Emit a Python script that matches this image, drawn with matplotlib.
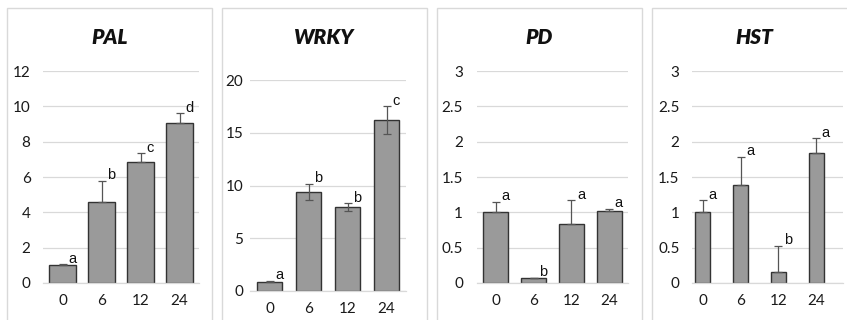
import matplotlib
matplotlib.use("Agg")
import matplotlib.pyplot as plt
from matplotlib.patches import Rectangle

# ---------------- data ----------------
hours = ["0", "6", "12", "24"]

genes = ["PAL", "WRKY", "PD", "HST"]

pal_vals = [1.0, 4.6, 6.85, 9.05]
pal_err = [0.05, 1.2, 0.5, 0.55]
pal_letters = ["a", "b", "c", "d"]

wrky_vals = [0.9, 9.4, 7.95, 16.2]
wrky_err = [0.08, 0.75, 0.35, 1.3]
wrky_letters = ["a", "b", "b", "c"]

pd_vals = [1.0, 0.07, 0.84, 1.02]
pd_err = [0.15, 0.0, 0.33, 0.03]
pd_letters = ["a", "b", "a", "a"]

hst_vals = [1.0, 1.39, 0.15, 1.84]
hst_err = [0.17, 0.4, 0.38, 0.21]
hst_letters = ["a", "a", "b", "a"]

pal_ticks = [0, 2, 4, 6, 8, 10, 12]
wrky_ticks = [0, 5, 10, 15, 20]
pd_ticks = [0, 0.5, 1, 1.5, 2, 2.5, 3]
hst_ticks = [0, 0.5, 1, 1.5, 2, 2.5, 3]

# ---------------- layout (pixels) ----------------
W, H = 847, 320
fig = plt.figure(figsize=(W / 100, H / 100), dpi=100)

panels = [
    dict(name=genes[0], vals=pal_vals, err=pal_err, letters=pal_letters, ticks=pal_ticks,
         ax=(43, 199, 283, 71), box=(7, 212), width=0.68, both=False, shift=0.0, ypad=9),
    dict(name=genes[1], vals=wrky_vals, err=wrky_err, letters=wrky_letters, ticks=wrky_ticks,
         ax=(250, 406, 291, 80), box=(222, 427), width=0.65, both=True, shift=0.0, ypad=5),
    dict(name=genes[2], vals=pd_vals, err=pd_err, letters=pd_letters, ticks=pd_ticks,
         ax=(477, 628, 283, 71), box=(437, 642), width=0.66, both=False, shift=0.0, ypad=10),
    dict(name=genes[3], vals=hst_vals, err=hst_err, letters=hst_letters, ticks=hst_ticks,
         ax=(692, 843, 283, 71), box=(652, 857), width=0.40, both=False, shift=0.21, ypad=9),
]

tick_font = "Lato"
letter_font = ["Liberation Sans", "DejaVu Sans"]

for p in panels:
    # panel frame
    bx0, bx1 = p["box"]
    rect = Rectangle((bx0 / W, -0.1), (bx1 - bx0) / W, (H + 0.1 * H - 8) / H,
                     transform=fig.transFigure, fill=False,
                     edgecolor="#d9d9d9", linewidth=1.0, zorder=0)
    fig.add_artist(rect)
    fig.text(((bx0 + bx1) / 2) / W, 1 - 37 / H, p["name"], ha="center", va="center",
             fontsize=15, fontweight="heavy", fontstyle="italic", family=tick_font,
             color="#111111")

    x0, x1, yb, yt = p["ax"]
    ax = fig.add_axes([x0 / W, 1 - yb / H, (x1 - x0) / W, (yb - yt) / H])
    ax.set_facecolor("none")
    xs = list(range(len(hours)))
    if p["both"]:
        yerr = [p["err"], p["err"]]
    else:
        yerr = [[0] * len(p["err"]), p["err"]]
    ax.bar(xs, p["vals"], width=p["width"], color="#9a9a9a", edgecolor="#333333",
           linewidth=1.0, zorder=2)
    ax.errorbar(xs, p["vals"], yerr=yerr, fmt="none", ecolor="#555555",
                elinewidth=0.9, capsize=3, capthick=0.9, zorder=3)
    for i, (v, e, l) in enumerate(zip(p["vals"], p["err"], p["letters"])):
        ax.annotate(l, (i, v + e), xytext=(7, 4), textcoords="offset points",
                    ha="center", va="center", fontsize=10.5, family=letter_font,
                    color="#111111", zorder=4)
    ax.set_xlim(-0.5 + p["shift"], 3.5 + p["shift"])
    ax.set_ylim(p["ticks"][0], p["ticks"][-1])
    ax.set_yticks(p["ticks"])
    ax.set_yticklabels([f"{t:g}" for t in p["ticks"]])
    ax.set_xticks(xs)
    ax.set_xticklabels(hours)
    ax.grid(axis="y", color="#d9d9d9", linewidth=0.9, zorder=0)
    ax.set_axisbelow(True)
    for s in ["top", "right", "left"]:
        ax.spines[s].set_visible(False)
    ax.spines["bottom"].set_color("#d9d9d9")
    ax.spines["bottom"].set_linewidth(0.9)
    ax.tick_params(axis="both", length=0, labelsize=11)
    ax.tick_params(axis="y", pad=p["ypad"])
    ax.tick_params(axis="x", pad=8)
    for lab in ax.get_xticklabels() + ax.get_yticklabels():
        lab.set_family(tick_font)
        lab.set_color("#1a1a1a")

fig.savefig("out.png", dpi=100, facecolor="white")
